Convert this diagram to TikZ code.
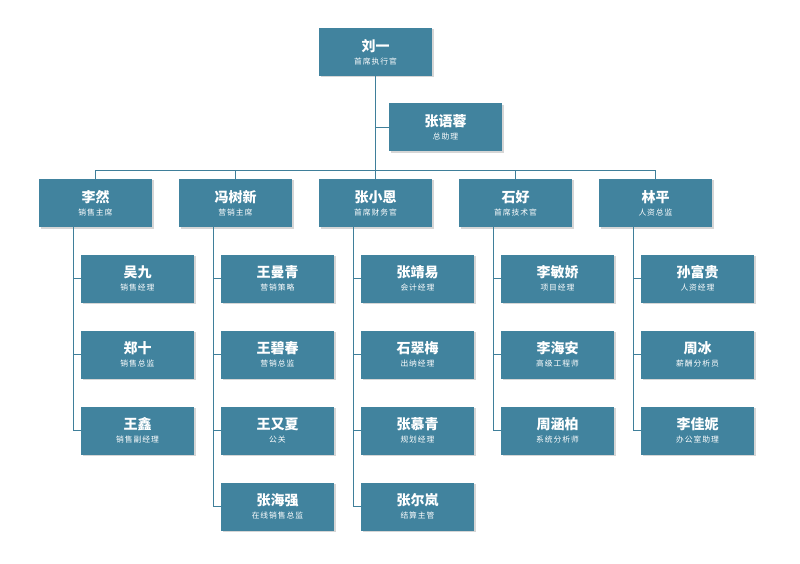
\documentclass[tikz,border=0pt]{standalone}
\usepackage{fontspec}
\setmainfont{Noto Sans CJK SC}
\usetikzlibrary{shadows}
\definecolor{boxc}{HTML}{41839E}
\definecolor{linec}{HTML}{3F7F9A}
\tikzset{
  person/.style={fill=boxc, draw=none, minimum width=113pt, minimum height=48pt, inner sep=0pt,
    text=white, align=center, drop shadow={shadow xshift=1.5pt, shadow yshift=-1.5pt, fill=black!16, opacity=1}},
  conn/.style={draw=linec, line width=0.8pt}
}
\newcommand{\pp}[2]{{\fontsize{14}{15}\selectfont\bfseries #1}\\[1pt]{\fontsize{7.8}{8}\selectfont\addfontfeature{LetterSpace=12}#2}}
\begin{document}
\begin{tikzpicture}[x=1pt,y=-1pt]
\useasboundingbox (0,0) rectangle (800,564);
% level 1
\node[person] (liu) at (375.5,52) {\pp{刘一}{首席执行官}};
\node[person] (zyr) at (445.5,127.5) {\pp{张语蓉}{总助理}};
% level 2
\node[person] (a) at (95.5,203) {\pp{李然}{销售主席}};
\node[person] (b) at (235.5,203) {\pp{冯树新}{营销主席}};
\node[person] (c) at (375.5,203) {\pp{张小恩}{首席财务官}};
\node[person] (d) at (515.5,203) {\pp{石好}{首席技术官}};
\node[person] (e) at (655.5,203) {\pp{林平}{人资总监}};
% level 3
\node[person] (a1) at (137.5,278.5) {\pp{吴九}{销售经理}};
\node[person] (a2) at (137.5,354.5) {\pp{郑十}{销售总监}};
\node[person] (a3) at (137.5,430.5) {\pp{王鑫}{销售副经理}};
\node[person] (b1) at (277.5,278.5) {\pp{王曼青}{营销策略}};
\node[person] (b2) at (277.5,354.5) {\pp{王碧春}{营销总监}};
\node[person] (b3) at (277.5,430.5) {\pp{王又夏}{公关}};
\node[person] (b4) at (277.5,506.5) {\pp{张海强}{在线销售总监}};
\node[person] (c1) at (417.5,278.5) {\pp{张靖易}{会计经理}};
\node[person] (c2) at (417.5,354.5) {\pp{石翠梅}{出纳经理}};
\node[person] (c3) at (417.5,430.5) {\pp{张慕青}{规划经理}};
\node[person] (c4) at (417.5,506.5) {\pp{张尔岚}{结算主管}};
\node[person] (d1) at (557.5,278.5) {\pp{李敏娇}{项目经理}};
\node[person] (d2) at (557.5,354.5) {\pp{李海安}{高级工程师}};
\node[person] (d3) at (557.5,430.5) {\pp{周涵柏}{系统分析师}};
\node[person] (e1) at (697.5,278.5) {\pp{孙富贵}{人资经理}};
\node[person] (e2) at (697.5,354.5) {\pp{周冰}{薪酬分析员}};
\node[person] (e3) at (697.5,430.5) {\pp{李佳妮}{办公室助理}};
% connectors
\draw[conn] (liu.south) -- (c.north);
\draw[conn] (zyr.west) -- (zyr.west -| liu.south);
\draw[conn] (a.north) -- ++(0,-8) -| (e.north);
\draw[conn] (b.north) -- ++(0,-8);
\draw[conn] (d.north) -- ++(0,-8);
\coordinate (ta) at ([xshift=35pt]a.south west);
\coordinate (tb) at ([xshift=35pt]b.south west);
\coordinate (tc) at ([xshift=35pt]c.south west);
\coordinate (td) at ([xshift=35pt]d.south west);
\coordinate (te) at ([xshift=35pt]e.south west);
\foreach \k in {a1,a2,a3} \draw[conn] (ta) |- (\k.west);
\foreach \k in {b1,b2,b3,b4} \draw[conn] (tb) |- (\k.west);
\foreach \k in {c1,c2,c3,c4} \draw[conn] (tc) |- (\k.west);
\foreach \k in {d1,d2,d3} \draw[conn] (td) |- (\k.west);
\foreach \k in {e1,e2,e3} \draw[conn] (te) |- (\k.west);
\end{tikzpicture}
\end{document}
